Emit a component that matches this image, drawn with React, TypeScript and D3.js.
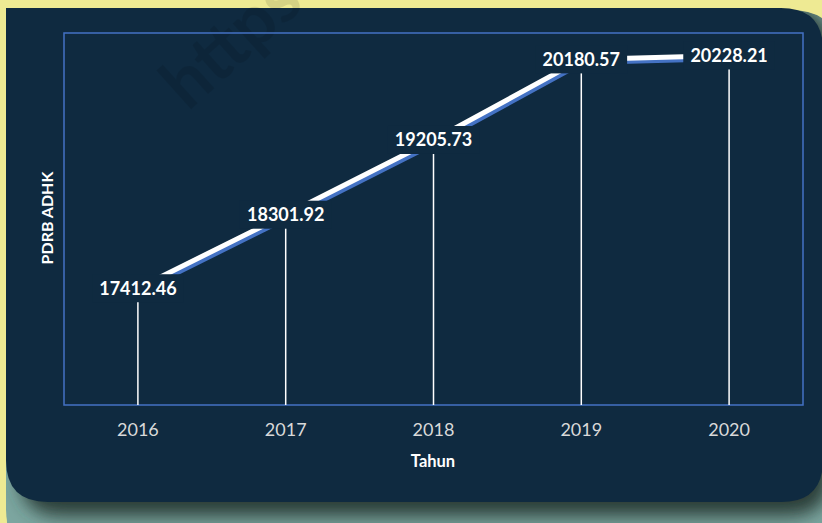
import React from "react";
import * as d3 from "d3";

const years = ["2016", "2017", "2018", "2019", "2020"];
const values = [17412.46, 18301.92, 19205.73, 20180.57, 20228.21];
const valueLabels = ["17412.46", "18301.92", "19205.73", "20180.57", "20228.21"];
const yDomain = [16000, 20500];
const xTitle = "Tahun";
const yTitle = "PDRB ADHK";

const W = 822;
const H = 523;
const plot = { left: 64, top: 33, right: 803, bottom: 405 };
const NAVY = "#0F2A40";
const FONT = "Lato, 'Open Sans', sans-serif";

function roundedPath(x0: number, y0: number, x1: number, y1: number, tl: number, tr: number, br: number, bl: number) {
  return `M${x0 + tl},${y0} L${x1 - tr},${y0} Q${x1},${y0} ${x1},${y0 + tr} L${x1},${y1 - br} Q${x1},${y1} ${x1 - br},${y1} L${x0 + bl},${y1} Q${x0},${y1} ${x0},${y1 - bl} L${x0},${y0 + tl} Q${x0},${y0} ${x0 + tl},${y0} Z`;
}

export default function App() {
  const x = d3.scaleBand<string>().domain(years).range([plot.left, plot.right]).padding(0);
  const y = d3.scaleLinear().domain(yDomain).range([plot.bottom, plot.top]);
  const pts = years.map((yr, i) => [x(yr)! + x.bandwidth() / 2, y(values[i])] as [number, number]);
  const line = d3.line<[number, number]>()(pts) || "";
  const lineShadow = d3.line<[number, number]>()(pts.map(([a, b]) => [a + 2, b + 3] as [number, number])) || "";

  const charW = 10.45;
  const labelBoxes = valueLabels.map((t, i) => {
    const tw = (t.length - 1) * charW + 4.5;
    return { x: pts[i][0] - tw / 2 - 7, y: pts[i][1] - 14, w: tw + 14, h: 28 };
  });

  const panel = roundedPath(6, 8, 823, 502, 0, 42, 42, 42);
  const shadowShape = roundedPath(6, 10, 840, 560, 0, 50, 50, 50);
  const darkShape = roundedPath(20, 8, 830, 516, 0, 42, 42, 42);

  return (
    <svg width={W} height={H} style={{ position: "absolute", left: 0, top: 0, display: "block" }}>
      <defs>
        <filter id="blur" x="-20%" y="-20%" width="140%" height="140%">
          <feGaussianBlur stdDeviation="9" />
        </filter>
        <clipPath id="shadowClip">
          <path d={shadowShape} />
        </clipPath>
      </defs>
      <rect x={0} y={0} width={W} height={H} fill="#EEEA93" />
      <g clipPath="url(#shadowClip)">
        <path d={shadowShape} fill="#7CA6A0" />
        <path d={darkShape} fill="#2C3D37" filter="url(#blur)" />
      </g>
      <path d={panel} fill={NAVY} />

      <text
        transform="translate(188,112) rotate(-42)"
        fill="#000000"
        fillOpacity={0.1}
        fontFamily={FONT}
        fontWeight={700}
        fontSize={70}
      >
        https
      </text>

      <rect
        x={plot.left}
        y={plot.top}
        width={plot.right - plot.left}
        height={plot.bottom - plot.top}
        fill="none"
        stroke="#4472C4"
        strokeWidth={1.5}
      />

      {pts.map(([px, py], i) => (
        <line key={"d" + i} x1={px} x2={px} y1={py} y2={plot.bottom} stroke="#FFFFFF" strokeWidth={1.5} />
      ))}

      <path d={lineShadow} fill="none" stroke="#4472C4" strokeWidth={5} strokeLinejoin="round" />
      <path d={line} fill="none" stroke="#FFFFFF" strokeWidth={5} strokeLinejoin="round" />

      {labelBoxes.map((b, i) => (
        <rect key={"b" + i} x={b.x} y={b.y} width={b.w} height={b.h} fill={NAVY} />
      ))}
      {valueLabels.map((t, i) => (
        <text
          key={"t" + i}
          x={pts[i][0]}
          y={pts[i][1] + 6.5}
          textAnchor="middle"
          fill="#FFFFFF"
          fontFamily={FONT}
          fontWeight={700}
          fontSize={18}
        >
          {t}
        </text>
      ))}

      {years.map((yr) => (
        <text
          key={"x" + yr}
          x={x(yr)! + x.bandwidth() / 2}
          y={436}
          textAnchor="middle"
          fill="#D9D9D9"
          fontFamily={FONT}
          fontSize={18}
        >
          {yr}
        </text>
      ))}

      <text x={433} y={467} textAnchor="middle" fill="#FFFFFF" fontFamily={FONT} fontWeight={700} fontSize={16.5}>
        {xTitle}
      </text>
      <text
        transform="translate(53,218) rotate(-90)"
        textAnchor="middle"
        fill="#FFFFFF"
        fontFamily={FONT}
        fontWeight={700}
        fontSize={16}
      >
        {yTitle}
      </text>
    </svg>
  );
}
